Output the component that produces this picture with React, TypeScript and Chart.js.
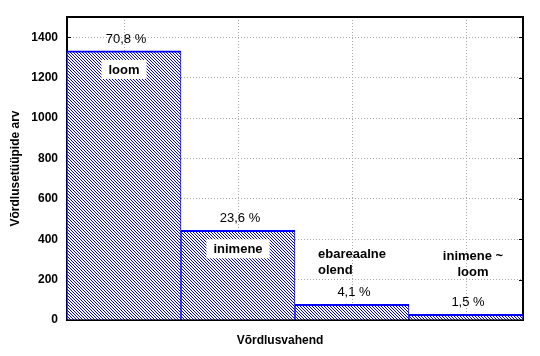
import React, { useEffect, useRef } from "react";
import { Chart, registerables } from "chart.js";

Chart.register(...registerables);

const categories = ["loom", "inimene", "ebareaalne olend", "inimene ~ loom"];
const counts = [1332, 444, 77, 28];
const percentLabels = ["70,8 %", "23,6 %", "4,1 %", "1,5 %"];
const categoryLines = [["loom"], ["inimene"], ["ebareaalne", "olend"], ["inimene ~", "loom"]];
const yTicks = [0, 200, 400, 600, 800, 1000, 1200, 1400];
const yTitle = "Võrdlusetüüpide arv";
const xTitle = "Võrdlusvahend";

const FONT = "'Liberation Sans', Arial, sans-serif";
const BLUE = "#0000ff";

function makeHatch(): CanvasPattern | string {
  const c = document.createElement("canvas");
  c.width = 3;
  c.height = 3;
  const g = c.getContext("2d");
  if (!g) return BLUE;
  g.fillStyle = "#ffffff";
  g.fillRect(0, 0, 3, 3);
  g.fillStyle = BLUE;
  for (let i = 0; i < 3; i++) g.fillRect(i, i, 1, 1);
  const p = g.createPattern(c, "repeat");
  return p || BLUE;
}

const decorPlugin = {
  id: "decor",
  beforeDatasetsDraw(chart: any) {
    const { ctx, chartArea } = chart;
    const y = chart.scales.y;
    ctx.save();
    ctx.strokeStyle = "#000";
    ctx.lineWidth = 2;
    ctx.strokeRect(chartArea.left, chartArea.top, chartArea.right - chartArea.left, chartArea.bottom - chartArea.top);
    ctx.lineWidth = 1;
    yTicks.forEach((v) => {
      const py = Math.round(y.getPixelForValue(v)) + 0.5;
      ctx.beginPath();
      ctx.moveTo(chartArea.left, py);
      ctx.lineTo(chartArea.left + 4, py);
      ctx.moveTo(chartArea.right - 4, py);
      ctx.lineTo(chartArea.right, py);
      ctx.stroke();
    });
    ctx.restore();
  },
  afterDatasetsDraw(chart: any) {
    const { ctx } = chart;
    const meta = chart.getDatasetMeta(0);
    const yScale = chart.scales.y;
    ctx.save();
    ctx.textBaseline = "middle";
    meta.data.forEach((bar: any, i: number) => {
      ctx.font = `13px ${FONT}`;
      ctx.fillStyle = "#000";
      ctx.textAlign = "center";
      ctx.fillText(percentLabels[i], bar.x + 2, bar.y - 12);

      const lines = categoryLines[i];
      ctx.font = `bold 13px ${FONT}`;
      const tall = bar.base - bar.y > 60;
      const w = Math.max(...lines.map((l) => ctx.measureText(l).width));
      if (tall) {
        const cy = bar.y + 18;
        ctx.fillStyle = "#fff";
        ctx.fillRect(bar.x - w / 2 - 7, cy - 9, w + 14, 19);
        ctx.fillStyle = "#000";
        ctx.textAlign = "center";
        ctx.fillText(lines[0], bar.x, cy + 1);
      } else {
        const top = yScale.getPixelForValue(325);
        lines.forEach((l, k) => {
          ctx.fillStyle = "#000";
          if (i === 2) {
            ctx.textAlign = "left";
            ctx.fillText(l, bar.x - w / 2, top + k * 16);
          } else {
            ctx.textAlign = "center";
            ctx.fillText(l, bar.x + 7, top + 2 + k * 16);
          }
        });
      }
    });
    ctx.font = `bold 12px ${FONT}`;
    ctx.textAlign = "center";
    ctx.fillStyle = "#000";
    ctx.fillText(xTitle, 280, 341);
    ctx.restore();
  },
};

export default function App() {
  const ref = useRef<HTMLCanvasElement | null>(null);
  useEffect(() => {
    if (!ref.current) return;
    const hatch = makeHatch();
    const chart = new Chart(ref.current, {
      type: "bar",
      data: {
        labels: categories,
        datasets: [
          {
            data: counts,
            backgroundColor: hatch as any,
            borderColor: BLUE,
            borderWidth: { top: 2, left: 1, right: 1, bottom: 0 } as any,
            borderSkipped: false,
            barPercentage: 1,
            categoryPercentage: 1,
          },
        ],
      },
      options: {
        responsive: false,
        animation: false,
        layout: { padding: { top: 17, right: 17, left: 0, bottom: 0 } },
        plugins: { legend: { display: false }, tooltip: { enabled: false } },
        scales: {
          x: {
            grid: { display: true, offset: false, color: "#a8a8a8", drawTicks: false },
            border: { display: false, dash: [1, 2] },
            ticks: { display: false },
            afterFit: (s: any) => {
              s.height = 36;
            },
          },
          y: {
            min: 0,
            max: 1500,
            afterBuildTicks: (s: any) => {
              s.ticks = yTicks.map((v) => ({ value: v }));
            },
            grid: { color: "#a8a8a8", drawTicks: false },
            border: { display: false, dash: [1, 2] },
            ticks: {
              padding: 9,
              color: "#000",
              font: { family: FONT, size: 12, weight: "bold" },
              callback: (v: any) => String(v),
            },
            title: {
              display: true,
              text: yTitle,
              color: "#000",
              font: { family: FONT, size: 12, weight: "bold" },
              padding: { top: 8, bottom: 0 },
            },
            afterFit: (s: any) => {
              s.width = 67;
            },
          },
        },
      },
      plugins: [decorPlugin],
    });
    return () => chart.destroy();
  }, []);
  return (
    <div style={{ position: "fixed", left: 0, top: 0, width: 540, height: 356, background: "#fff" }}>
      <canvas ref={ref} width={540} height={356} />
    </div>
  );
}
